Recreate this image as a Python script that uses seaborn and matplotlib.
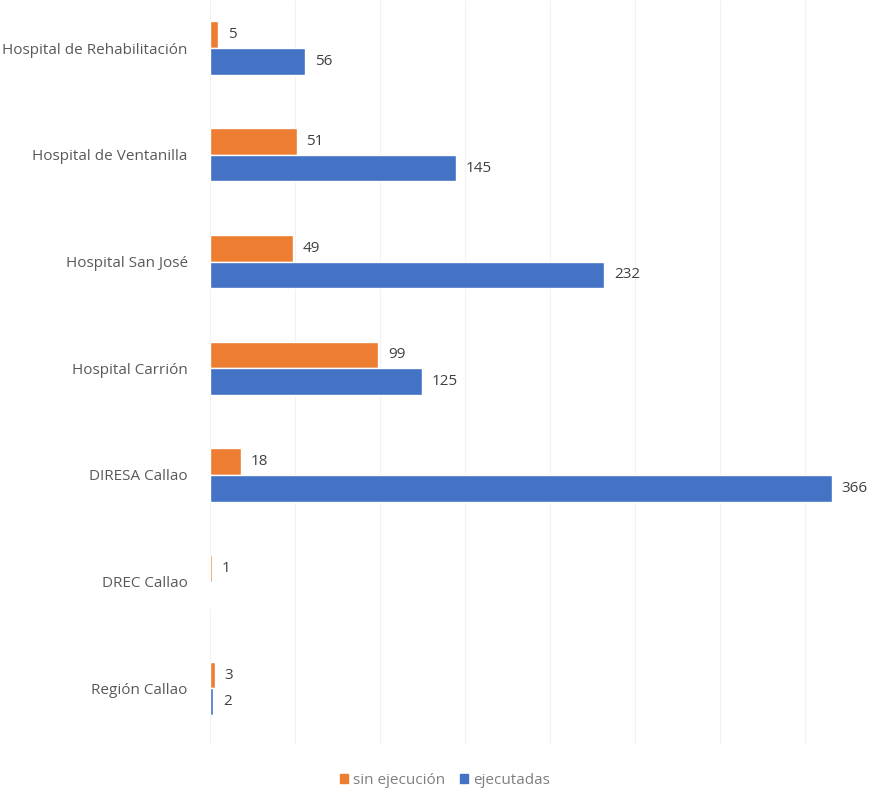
import pandas as pd
import matplotlib
matplotlib.use("Agg")
import matplotlib.pyplot as plt
import seaborn as sns

# data
entidades = ['Hospital de Rehabilitación', 'Hospital de Ventanilla', 'Hospital San José',
             'Hospital Carrión', 'DIRESA Callao', 'DREC Callao', 'Región Callao']
sin_ejecucion = [5, 51, 49, 99, 18, 1, 3]
ejecutadas = [56, 145, 232, 125, 366, 0, 2]
series = ['sin ejecución', 'ejecutadas']
colores = ['#ED7D31', '#4472C4']

df = pd.DataFrame({
    'Entidad': entidades * 2,
    'Serie': [series[0]] * len(entidades) + [series[1]] * len(entidades),
    'Valor': sin_ejecucion + ejecutadas,
})

sns.set_style('white')
plt.rcParams['font.family'] = ['Open Sans', 'DejaVu Sans']

fig = plt.figure(figsize=(8.72, 7.93), dpi=100)
ax = fig.add_axes([0.2408, 0.0605, 0.752, 0.9395])

sns.barplot(data=df, y='Entidad', x='Valor', hue='Serie', order=entidades,
            hue_order=series, palette=colores, width=0.5, orient='h',
            saturation=1, ax=ax, legend=False)

# data labels
for cont in ax.containers:
    labels = [str(int(v)) if v > 0 else '' for v in cont.datavalues]
    ax.bar_label(cont, labels=labels, padding=7, fontsize=11, color='#404040')

ax.set_xlim(0, 386)
ax.set_ylim(6.53, -0.45)
ax.set_xticks(range(0, 386, 50))
ax.set_xticklabels([])
ax.xaxis.grid(True, color='#f2f2f2', linewidth=0.8)
ax.set_axisbelow(True)
ax.tick_params(axis='both', length=0)
ax.tick_params(axis='y', labelsize=11, labelcolor='#595959', pad=16)
ax.set_xlabel('')
ax.set_ylabel('')
for s in ax.spines.values():
    s.set_visible(False)

handles = [plt.Rectangle((0, 0), 1, 1, color=c) for c in colores]
leg = fig.legend(handles, series, loc='center', bbox_to_anchor=(0.51, 0.016), ncol=2,
                 frameon=False, fontsize=11, handlelength=0.55, handleheight=0.55,
                 handletextpad=0.3, columnspacing=1.0)
for t in leg.get_texts():
    t.set_color('#7f7f7f')

fig.savefig('out.png', dpi=100)
